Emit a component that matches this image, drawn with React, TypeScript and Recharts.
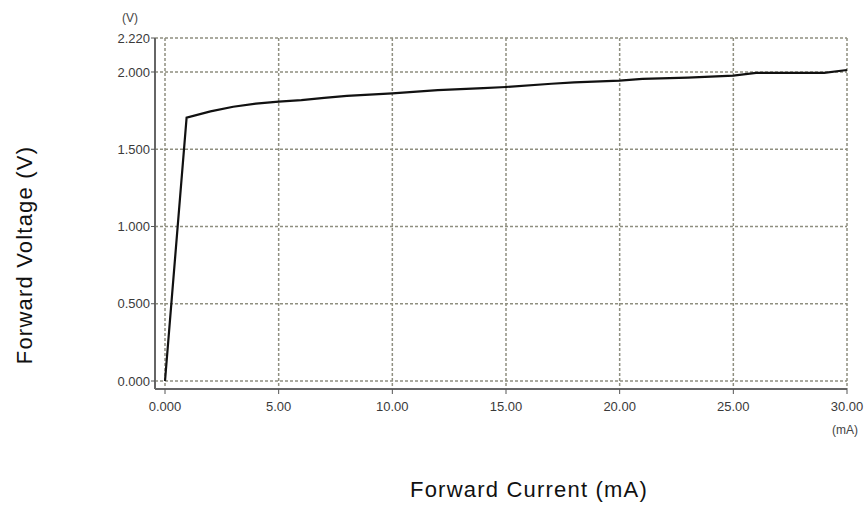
import React from 'react';
import { LineChart, Line, XAxis, YAxis, CartesianGrid } from 'recharts';

const currentMA = [0, 0.95, 2, 3, 4, 5, 6, 7, 8, 9, 10, 12, 14, 15, 17, 18, 20, 21, 23, 25, 26, 29, 30];
const voltageV = [0, 1.705, 1.745, 1.775, 1.795, 1.808, 1.818, 1.832, 1.845, 1.853, 1.862, 1.882, 1.895, 1.903, 1.924, 1.933, 1.944, 1.955, 1.963, 1.976, 1.994, 1.994, 2.013];

const xTicks = [0, 5, 10, 15, 20, 25, 30];
const xTickLabels = ['0.000', '5.00', '10.00', '15.00', '20.00', '25.00', '30.00'];
const yTicks = [0, 0.5, 1, 1.5, 2, 2.22];
const yTickLabels = ['0.000', '0.500', '1.000', '1.500', '2.000', '2.220'];

const data = currentMA.map((x, i) => ({ x, v: voltageV[i] }));

const tickFont = { fontFamily: '"Liberation Sans Narrow", "Liberation Sans", Arial, sans-serif', fontSize: 13, fill: '#3a3a3a' };
const titleFont = '"Liberation Sans", Arial, sans-serif';

export default function App() {
  return (
    <div style={{ position: 'absolute', left: 0, top: 0, width: 866, height: 509, background: '#fff', overflow: 'hidden' }}>
      <LineChart width={866} height={509} data={data} margin={{ top: 38, right: 19, left: 95, bottom: 90 }}>
        <CartesianGrid stroke="#8f8f80" strokeDasharray="3 2" strokeWidth={1.5} />
        <XAxis
          type="number"
          dataKey="x"
          domain={[0, 30]}
          ticks={xTicks}
          tickFormatter={(v) => xTickLabels[xTicks.indexOf(v)] ?? String(v)}
          padding={{ left: 10, right: 0 }}
          height={30}
          tickSize={5}
          tickMargin={8}
          axisLine={{ stroke: '#666', strokeWidth: 2 }}
          tickLine={{ stroke: '#555' }}
          tick={tickFont}
          interval={0}
        />
        <YAxis
          type="number"
          domain={[0, 2.22]}
          ticks={yTicks}
          tickFormatter={(v) => yTickLabels[yTicks.indexOf(v)] ?? String(v)}
          padding={{ top: 0, bottom: 8 }}
          width={60}
          tickSize={4}
          tickMargin={1}
          axisLine={{ stroke: '#666', strokeWidth: 2 }}
          tickLine={{ stroke: '#555' }}
          tick={tickFont}
          interval={0}
        />
        <Line type="linear" dataKey="v" stroke="#111" strokeWidth={2.2} dot={false} isAnimationActive={false} />
      </LineChart>
      <div style={{ position: 'absolute', left: 122, top: 11, fontFamily: tickFont.fontFamily, fontSize: 12, color: '#444' }}>(V)</div>
      <div style={{ position: 'absolute', left: 832, top: 423, fontFamily: tickFont.fontFamily, fontSize: 12, color: '#444' }}>(mA)</div>
      <div style={{ position: 'absolute', left: 529, top: 490, transform: 'translate(-50%, -50%)', whiteSpace: 'nowrap', fontFamily: titleFont, fontSize: 22, letterSpacing: 1.2, color: '#111' }}>
        Forward Current (mA)
      </div>
      <div style={{ position: 'absolute', left: 25, top: 255, transform: 'translate(-50%, -50%) rotate(-90deg)', whiteSpace: 'nowrap', fontFamily: titleFont, fontSize: 22, letterSpacing: 1.2, color: '#111' }}>
        Forward Voltage (V)
      </div>
    </div>
  );
}
